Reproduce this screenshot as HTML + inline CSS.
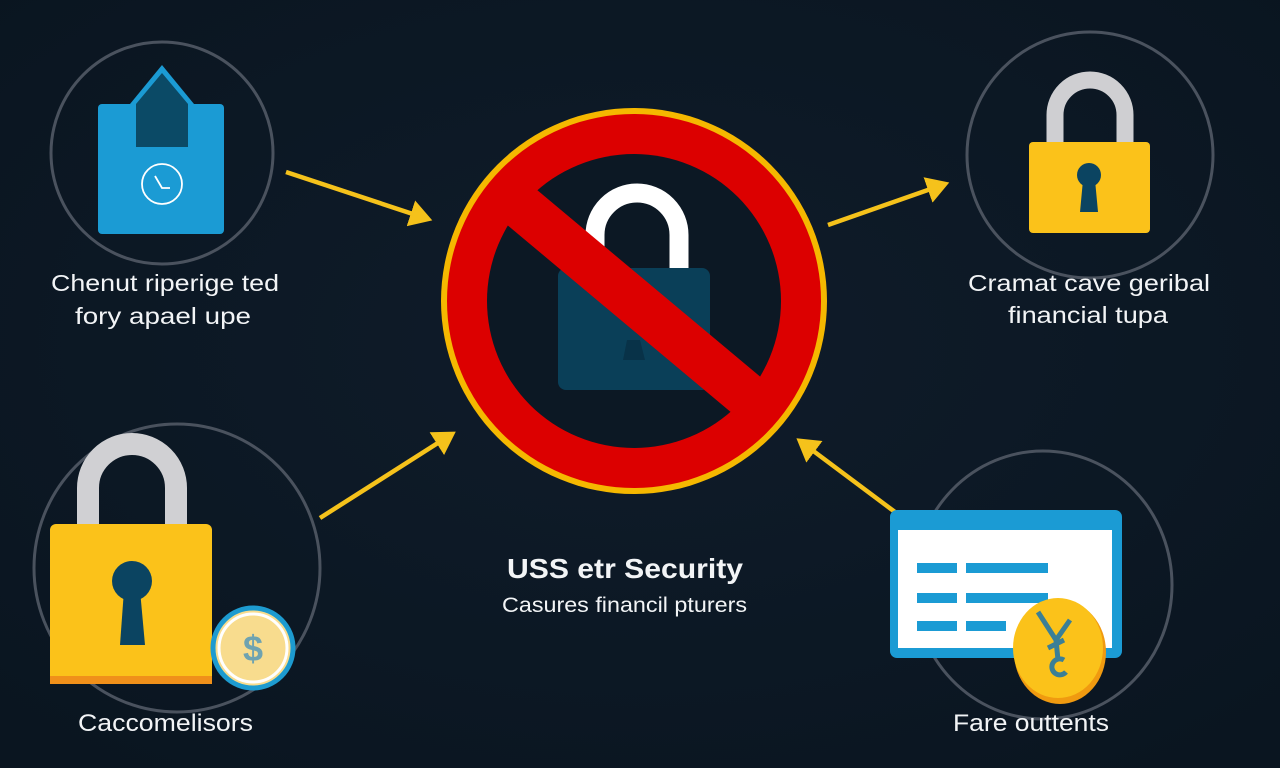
<!DOCTYPE html>
<html><head><meta charset="utf-8"><style>
html,body{margin:0;padding:0;background:#0c1824;}
svg{display:block}
text{font-family:"Liberation Sans",sans-serif;fill:#f2f4f6}
</style></head><body>
<svg width="1280" height="768" viewBox="0 0 1280 768" xmlns="http://www.w3.org/2000/svg">
<defs>
<radialGradient id="bg" cx="50%" cy="45%" r="70%"><stop offset="0" stop-color="#0f1c2a"/><stop offset="1" stop-color="#0a1520"/></radialGradient>
<clipPath id="inner"><circle cx="634" cy="301" r="150"/></clipPath>
<marker id="ah" markerWidth="6" markerHeight="6" refX="4" refY="3" orient="auto" markerUnits="strokeWidth"><path d="M0,0 L5,3 L0,6 Z" fill="#f5c21b"/></marker>
</defs>
<rect width="1280" height="768" fill="url(#bg)"/>

<g stroke="#f5c21b" stroke-width="4.5" fill="none" marker-end="url(#ah)">
<line x1="286" y1="172" x2="428" y2="219"/>
<line x1="320" y1="518" x2="452" y2="434"/>
<line x1="828" y1="225" x2="945" y2="184"/>
<line x1="895" y1="512" x2="800" y2="441"/>
</g>

<circle cx="634" cy="301" r="193" fill="#f5b800"/>
<circle cx="634" cy="301" r="187" fill="#dc0000"/>
<circle cx="634" cy="301" r="147" fill="#0c1824"/>
<path d="M595,268 V235 A42,42 0 0 1 679,235 V268" fill="none" stroke="#ffffff" stroke-width="19"/>
<rect x="558" y="268" width="152" height="122" rx="8" fill="#0a3f58"/>
<path d="M627,340 L640,340 L645,360 L623,360 Z" fill="#083248"/>
<line x1="475" y1="168" x2="800" y2="440" stroke="#dc0000" stroke-width="46" clip-path="url(#inner)"/>

<circle cx="162" cy="153" r="111" fill="none" stroke="#4a525e" stroke-width="3"/>
<rect x="98" y="104" width="126" height="130" rx="4" fill="#1b9bd4"/>
<path d="M130,104 L162,65 L194,104 L194,147 L130,147 Z" fill="#1b9bd4"/>
<path d="M136,104 L162,73 L188,104 L188,147 L136,147 Z" fill="#0b4a66"/>
<circle cx="162" cy="184" r="20" fill="none" stroke="#ffffff" stroke-width="1.8"/>
<path d="M155,176 L162,188 L170,188" fill="none" stroke="#fff" stroke-width="1.8"/>
<text x="51" y="291" font-size="23" textLength="228" lengthAdjust="spacingAndGlyphs">Chenut riperige ted</text>
<text x="75" y="324" font-size="23" textLength="176" lengthAdjust="spacingAndGlyphs">fory apael upe</text>

<circle cx="1090" cy="155" r="123" fill="none" stroke="#4a525e" stroke-width="3"/>
<path d="M1055,142 V115 A35,35 0 0 1 1125,115 V142" fill="none" stroke="#cfcfd2" stroke-width="17"/>
<rect x="1029" y="142" width="121" height="91" rx="4" fill="#fbc21a"/>
<circle cx="1089" cy="175" r="12" fill="#0b4461"/>
<path d="M1083,180 L1095,180 L1098,212 L1080,212 Z" fill="#0b4461"/>
<text x="968" y="291" font-size="23" textLength="242" lengthAdjust="spacingAndGlyphs">Cramat cave geribal</text>
<text x="1008" y="323" font-size="23" textLength="160" lengthAdjust="spacingAndGlyphs">financial tupa</text>

<ellipse cx="177" cy="568" rx="143" ry="144" fill="none" stroke="#4a525e" stroke-width="3"/>
<path d="M88,524 V488 A44,44 0 0 1 176,488 V524" fill="none" stroke="#d0d0d3" stroke-width="22"/>
<rect x="50" y="524" width="162" height="160" rx="6" fill="#fbc21a"/>
<rect x="50" y="676" width="162" height="8" fill="#f0901a"/>
<circle cx="132" cy="581" r="20" fill="#0b4461"/>
<path d="M124,590 L140,590 L145,645 L120,645 Z" fill="#0b4461"/>
<circle cx="253" cy="648" r="40" fill="#f8dc8e" stroke="#1d9bd0" stroke-width="5"/>
<circle cx="253" cy="648" r="34" fill="none" stroke="#fff" stroke-width="3"/>
<text x="253" y="661" font-size="36" font-weight="bold" text-anchor="middle" style="fill:#6fa3b0">$</text>
<text x="78" y="731" font-size="24" textLength="175" lengthAdjust="spacingAndGlyphs">Caccomelisors</text>

<ellipse cx="1043" cy="585" rx="129" ry="134" fill="none" stroke="#4a525e" stroke-width="3"/>
<rect x="890" y="510" width="232" height="148" rx="7" fill="#1b9bd4"/>
<rect x="898" y="530" width="214" height="118" fill="#ffffff"/>
<g fill="#1b9bd4">
<rect x="917" y="563" width="40" height="10"/><rect x="966" y="563" width="82" height="10"/>
<rect x="917" y="593" width="40" height="10"/><rect x="966" y="593" width="82" height="10"/>
<rect x="917" y="621" width="40" height="10"/><rect x="966" y="621" width="40" height="10"/>
</g>
<ellipse cx="1060" cy="652" rx="46" ry="52" fill="#f09a10"/>
<ellipse cx="1058" cy="648" rx="45" ry="50" fill="#fbc21a"/>
<path d="M1038,612 L1056,640 L1070,620 M1056,640 L1058,660 M1048,648 L1064,640 M1064,660 A8,8 0 1 0 1066,672" fill="none" stroke="#3b7f96" stroke-width="5"/>
<text x="953" y="731" font-size="24" textLength="156" lengthAdjust="spacingAndGlyphs">Fare outtents</text>

<text x="507" y="578" font-size="28" font-weight="bold" textLength="236" lengthAdjust="spacingAndGlyphs">USS etr Security</text>
<text x="502" y="612" font-size="21" textLength="245" lengthAdjust="spacingAndGlyphs">Casures financil pturers</text>
</svg>
</body></html>
